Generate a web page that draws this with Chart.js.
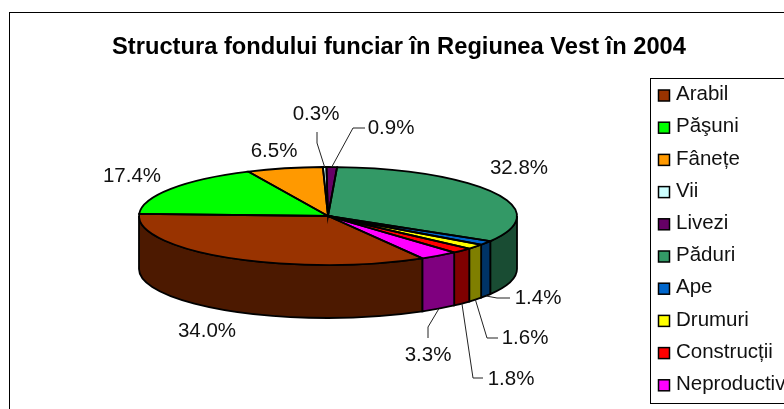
<!DOCTYPE html>
<html>
<head>
<meta charset="utf-8">
<title>Structura fondului funciar</title>
<script src="https://cdn.jsdelivr.net/npm/chart.js@4"></script>
<style>
  html, body { margin: 0; padding: 0; background: #fff; overflow: hidden; width: 784px; height: 409px; }
  #frame { position: absolute; left: 9px; top: 12px; width: 790px; height: 420px; border-left: 1px solid #000; border-top: 1px solid #000; }
  canvas { display: block; }
</style>
</head>
<body>
<div id="frame"><canvas id="chart" width="778" height="420"></canvas></div>
<script>
// ===== Data =====
const categories = ['Arabil', 'Păşuni', 'Fânețe', 'Vii', 'Livezi', 'Păduri', 'Ape', 'Drumuri', 'Construcții', 'Neproductiv'];
const shares = [34.0, 17.4, 6.5, 0.3, 0.9, 32.8, 1.4, 1.6, 1.8, 3.3];
const colors = ['#993300', '#00FF00', '#FF9900', '#CCFFFF', '#660066', '#339966', '#0066CC', '#FFFF00', '#FF0000', '#FF00FF'];
const chartTitle = 'Structura fondului funciar în Regiunea Vest în 2004';

// Label centres and leader elbows, canvas pixels
const labelSpots = [[197, 318], [122, 163], [264, 138], [306, 101], [381, 115], [509, 155], [528, 285], [515, 325], [501, 366], [418, 342]];
const leaderElbows = [
    null, null, null,
    [[307, 119], [307, 130]],
    [[355, 115], [343, 115]],
    null,
    [[500, 285], [487, 285]],
    [[488, 325], [477, 325]],
    [[473, 365], [463, 365]],
    [[418, 325], [418, 314]]
];

// Pie shape on the canvas
const PIE = { cx: 318, cy: 203, rx: 189, ry: 49, depth: 53 };
// Legend layout on the canvas
const LEGEND = { left: 640.5, top: 65.5, width: 200, height: 325, markerX: 648.5, textX: 666, firstY: 82.5, stepY: 32.2, marker: 11 };
const FONT = '"Liberation Sans", Arial, sans-serif';

function darken(hex) {
    const n = parseInt(hex.slice(1), 16);
    return `rgb(${(n >> 16) >> 1},${((n >> 8) & 255) >> 1},${(n & 255) >> 1})`;
}

// Point on the top ellipse for a chart angle
function rimPoint(angle) {
    return [PIE.cx + PIE.rx * Math.cos(angle), PIE.cy + PIE.ry * Math.sin(angle)];
}

// Part of an arc that lies on the front half (canvas angles 0..PI)
function frontPart(start, end) {
    const two = Math.PI * 2;
    for (let k = -1; k <= 2; k++) {
        const a = Math.max(start, k * two);
        const b = Math.min(end, k * two + Math.PI);
        if (b > a) return [a, b];
    }
    return null;
}

const pie3d = {
    id: 'pie3d',
    beforeDatasetsDraw(chart) {
        const { ctx } = chart;
        const arcs = chart.getDatasetMeta(0).data;

        // side walls
        arcs.forEach((arc, i) => {
            const part = frontPart(arc.startAngle, arc.endAngle);
            if (!part) return;
            ctx.save();
            ctx.beginPath();
            ctx.ellipse(PIE.cx, PIE.cy, PIE.rx, PIE.ry, 0, part[0], part[1]);
            ctx.ellipse(PIE.cx, PIE.cy + PIE.depth, PIE.rx, PIE.ry, 0, part[1], part[0], true);
            ctx.closePath();
            ctx.fillStyle = darken(colors[i]);
            ctx.fill();
            ctx.strokeStyle = '#000';
            ctx.lineWidth = 1.8;
            ctx.stroke();
            ctx.restore();
        });

        // squash the library's round pie into the top face
        const first = arcs[0];
        ctx.save();
        ctx.translate(PIE.cx, PIE.cy);
        ctx.scale(PIE.rx / first.outerRadius, PIE.ry / first.outerRadius);
        ctx.translate(-first.x, -first.y);
    },
    afterDatasetsDraw(chart) {
        const { ctx } = chart;
        ctx.restore();
        const arcs = chart.getDatasetMeta(0).data;

        // outlines of the top face
        ctx.save();
        ctx.strokeStyle = '#000';
        ctx.lineWidth = 1.8;
        arcs.forEach(arc => {
            ctx.beginPath();
            ctx.moveTo(PIE.cx, PIE.cy);
            ctx.ellipse(PIE.cx, PIE.cy, PIE.rx, PIE.ry, 0, arc.startAngle, arc.endAngle);
            ctx.closePath();
            ctx.stroke();
        });

        // leader lines
        ctx.strokeStyle = '#222';
        ctx.lineWidth = 1;
        arcs.forEach((arc, i) => {
            const elbows = leaderElbows[i];
            if (!elbows) return;
            const mid = (arc.startAngle + arc.endAngle) / 2;
            const rim = rimPoint(mid);
            const y = Math.sin(mid) > 0 ? rim[1] + PIE.depth : rim[1];
            ctx.beginPath();
            ctx.moveTo(elbows[0][0], elbows[0][1]);
            ctx.lineTo(elbows[1][0], elbows[1][1]);
            ctx.lineTo(rim[0], y);
            ctx.stroke();
        });

        // percent labels
        ctx.fillStyle = '#111';
        ctx.font = '20.5px ' + FONT;
        ctx.textAlign = 'center';
        ctx.textBaseline = 'middle';
        shares.forEach((v, i) => {
            ctx.fillText(v.toFixed(1) + '%', labelSpots[i][0], labelSpots[i][1]);
        });

        // legend box
        ctx.strokeStyle = '#000';
        ctx.lineWidth = 1;
        ctx.strokeRect(LEGEND.left, LEGEND.top, LEGEND.width, LEGEND.height);
        ctx.textAlign = 'left';
        categories.forEach((name, i) => {
            const y = LEGEND.firstY + i * LEGEND.stepY;
            ctx.fillStyle = colors[i];
            ctx.fillRect(LEGEND.markerX, y - LEGEND.marker / 2, LEGEND.marker, LEGEND.marker);
            ctx.lineWidth = 1.5;
            ctx.strokeRect(LEGEND.markerX, y - LEGEND.marker / 2, LEGEND.marker, LEGEND.marker);
            ctx.fillStyle = '#111';
            ctx.fillText(name, LEGEND.textX, y - 1);
        });
        ctx.restore();
    }
};

new Chart(document.getElementById('chart').getContext('2d'), {
    type: 'pie',
    data: {
        labels: categories,
        datasets: [{
            data: shares,
            backgroundColor: colors,
            borderWidth: 0,
            clip: false
        }]
    },
    options: {
        responsive: false,
        animation: false,
        rotation: 150,
        plugins: {
            tooltip: { enabled: false },
            legend: { display: false },
            title: {
                display: true,
                text: chartTitle,
                color: '#000',
                font: { family: FONT, size: 23.7, weight: 'bold' },
                padding: { top: 20, bottom: 20 }
            }
        }
    },
    plugins: [pie3d]
});
</script>
</body>
</html>
